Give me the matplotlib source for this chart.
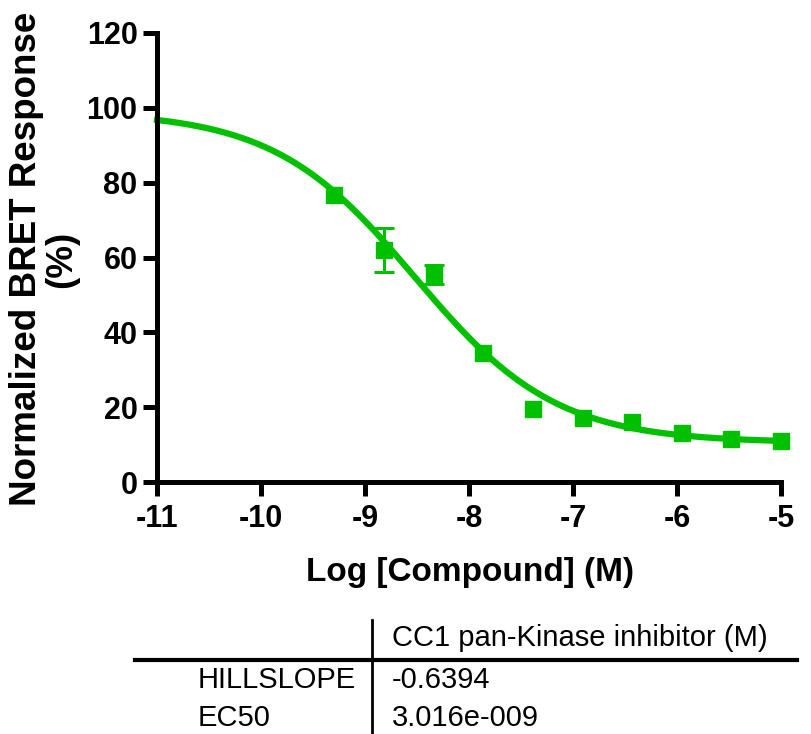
import numpy as np
import matplotlib
matplotlib.use("Agg")
import matplotlib.pyplot as plt
from matplotlib.lines import Line2D

# data
log_conc = [-9.294, -8.817, -8.340, -7.863, -7.385, -6.908, -6.431, -5.954, -5.477, -5.0]
response = [76.8, 62.0, 55.5, 34.6, 19.5, 17.2, 16.0, 13.2, 11.6, 10.9]
errors = [0, 6.0, 2.6, 0, 0, 0, 0, 0, 0, 0]

# fit parameters (table + curve)
top = 99.0
bottom = 10.5
hillslope = -0.6394
ec50 = 3.016e-9

table_cols = ["", "CC1 pan-Kinase inhibitor (M)"]
table_rows = [["HILLSLOPE", "-0.6394"], ["EC50", "3.016e-009"]]

green = "#00C000"
W, H = 812, 734

plt.rcParams['font.family'] = ['Liberation Sans', 'DejaVu Sans']
plt.rcParams['axes.unicode_minus'] = False

fig = plt.figure(figsize=(W / 100, H / 100), dpi=100)
ax = fig.add_axes([157 / W, 1 - 482 / H, (781 - 157) / W, (482 - 33) / H])


def px(x, y):
    # pixel coords -> figure fraction
    return x / W, 1 - y / H


# fitted curve
xs = np.linspace(-11, -5, 300)
ys = bottom + (top - bottom) / (1 + 10 ** ((np.log10(ec50) - xs) * hillslope))
ax.plot(xs, ys, color=green, lw=4.5, clip_on=False, zorder=2)

ax.plot(log_conc, response, "s", color=green, ms=11.5, clip_on=False, zorder=3)
big = [i for i, e in enumerate(errors) if e > 0]
ax.errorbar([log_conc[i] for i in big], [response[i] for i in big],
            yerr=[errors[i] for i in big], fmt="none", ecolor=green,
            elinewidth=2.2, capsize=7, capthick=2.2, clip_on=False, zorder=3)

ax.set_xlim(-11, -5)
ax.set_ylim(0, 120)
ax.set_xticks(range(-11, -4))
ax.set_yticks(range(0, 121, 20))
for s in ["top", "right"]:
    ax.spines[s].set_visible(False)
for s in ["left", "bottom"]:
    ax.spines[s].set_linewidth(3.6)
ax.tick_params(width=3.6, length=10, labelsize=22, pad=4)
ax.tick_params(axis="x", pad=6)
for lab in ax.get_xticklabels() + ax.get_yticklabels():
    lab.set_fontweight("bold")

fig.text(*px(470, 572), "Log [Compound] (M)", fontsize=24, fontweight="bold",
         ha="center", va="center")
fig.text(*px(44, 259), "Normalized BRET Response\n(%)", fontsize=26.5,
         fontweight="bold", rotation=90, ha="center", va="center",
         multialignment="center", linespacing=1.0)

# results table
fig.add_artist(Line2D([135 / W, 797 / W], [1 - 660 / H, 1 - 660 / H],
                      transform=fig.transFigure, color="black", lw=3))
fig.add_artist(Line2D([372 / W, 372 / W], [1 - 620 / H, 0],
                      transform=fig.transFigure, color="black", lw=2))
fig.text(*px(392, 638), table_cols[1], fontsize=21, va="center", ha="left")
for i, (name, val) in enumerate(table_rows):
    yy = 680 + i * 38
    fig.text(*px(198, yy), name, fontsize=21, va="center", ha="left")
    fig.text(*px(392, yy), val, fontsize=21, va="center", ha="left")

fig.savefig("out.png", dpi=100)
